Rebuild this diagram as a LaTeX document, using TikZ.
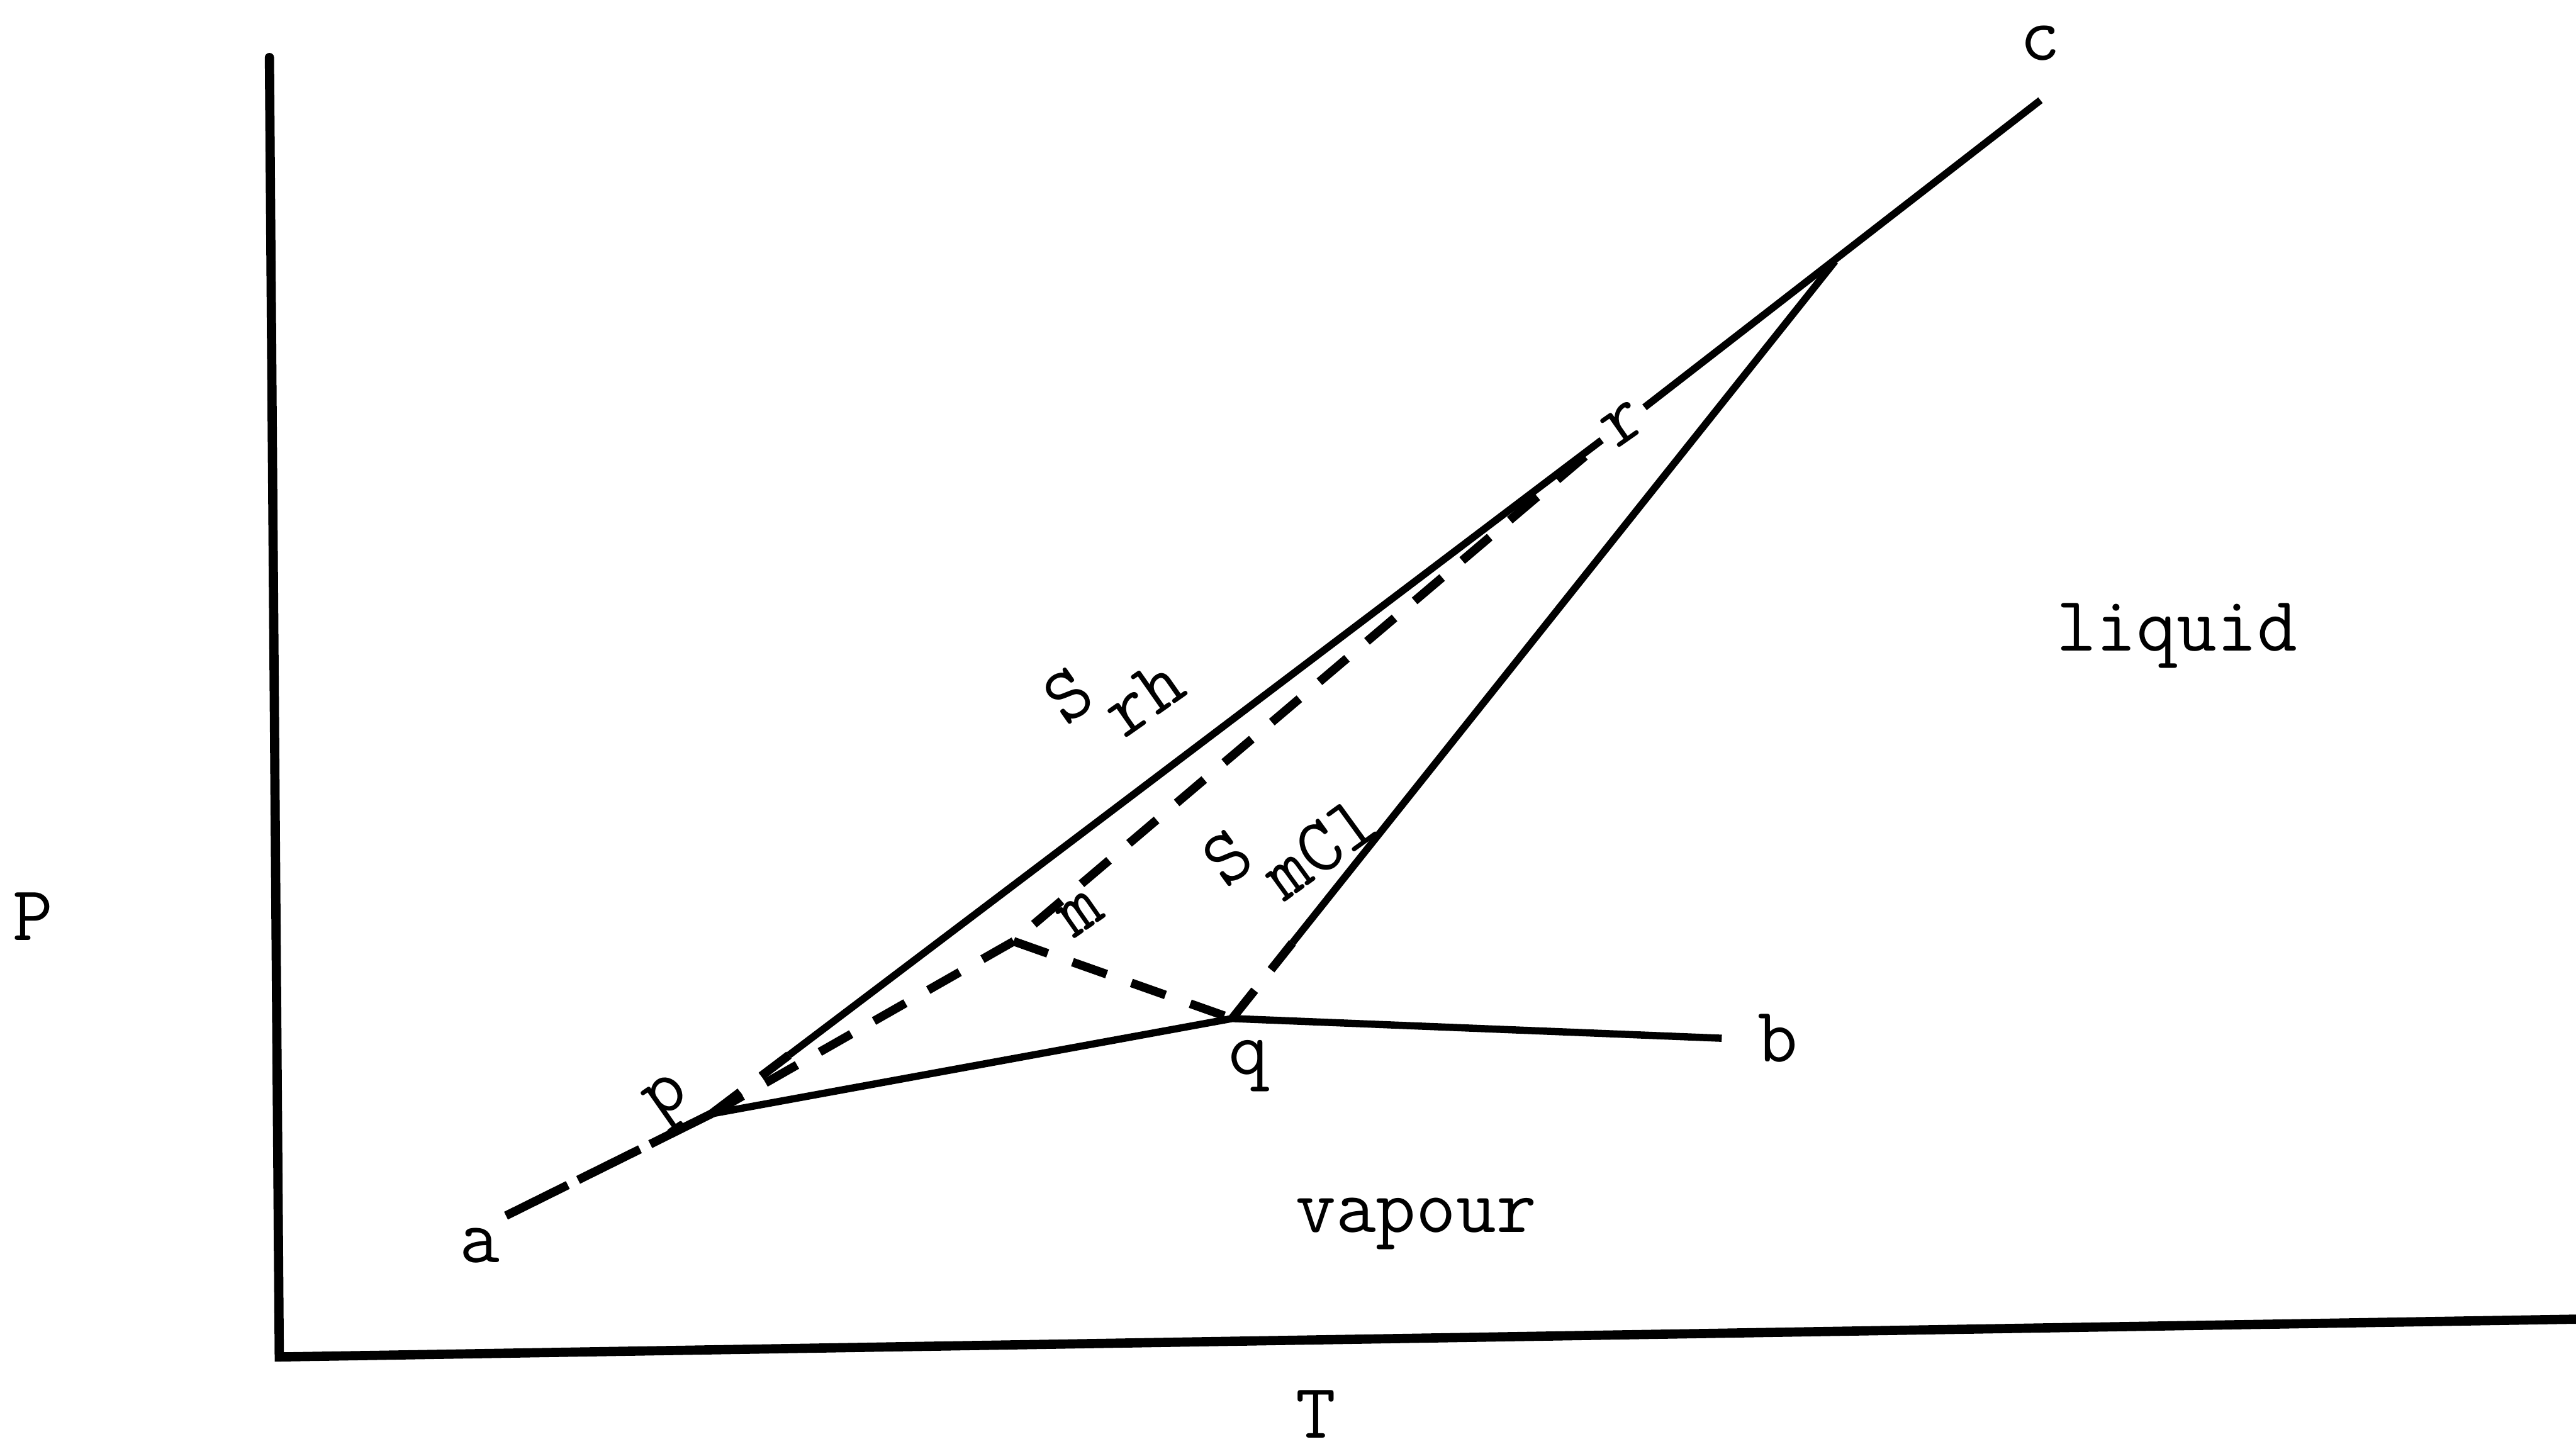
\documentclass[tikz,border=0pt]{standalone}
\usepackage{fontspec}
\usetikzlibrary{calc,positioning}
\tikzset{
  axisline/.style={line width=1.6pt,line cap=round},
  solidline/.style={line width=1.25pt},
  dashline/.style={line width=1.5pt,dash pattern=on 2.2mm off 1.6mm},
  longdash/.style={line width=1.5pt,dash pattern=on 4.2mm off 0.7mm},
  lbl/.style={font=\ttfamily\fontsize{13.5}{16}\selectfont\addfontfeatures{FakeBold=1.6},
              inner sep=1pt}
}

\begin{document}
\begin{tikzpicture}[x=1cm,y=1cm]
    \path[use as bounding box] (0,0) rectangle (15.68,8.82);

    % axes
    \coordinate (ytop) at (1.64,8.47);
    \coordinate (orig) at (1.70,0.56);
    \coordinate (xend) at (15.68,0.79);
    \draw[axisline] (ytop) -- (orig) -- (xend);
    \node[lbl] (ylab) at (0.20,3.24) {P};
    \node[lbl] (xlab) at (8.01,0.21) {T};

    % points of the diagram
    \coordinate (a) at (3.08,1.42);
    \coordinate (p) at (4.33,2.04);
    \coordinate (m) at (6.17,3.09);
    \coordinate (q) at (7.50,2.62);
    \coordinate (b) at (10.48,2.50);
    \coordinate (jn) at (11.17,7.23);
    \coordinate (cend) at (12.42,8.21);
    \node[lbl,rotate=35] (r) at (9.88,6.24) {r};
    \coordinate (pr) at ($(p)!0.085!(r)$);
    \coordinate (qj) at ($(q)!0.10!(jn)$);

    % curves
    \draw[longdash] (a) -- (p);
    \draw[solidline] (p) -- (q) -- (b);
    \draw[dashline] (p) -- (pr);
    \draw[solidline] (pr) -- (r);
    \draw[dashline] (p) -- (m) -- (r);
    \draw[dashline] (m) -- (q);
    \draw[dashline] (q) -- (qj);
    \draw[solidline] (qj) -- (jn);
    \draw[solidline] (r) -- (cend);

    % labels
    \node[lbl] (alab) at (2.92,1.24) {a};
    \node[lbl,rotate=35] (plab) at (4.08,2.11) {p};
    \node[lbl,rotate=35] (mlab) at (6.58,3.26) {m};
    \node[lbl] (qlab) at (7.60,2.33) {q};
    \node[lbl] (blab) at (10.82,2.50) {b};
    \node[lbl,above=2mm of cend] (clab) {c};
    \node[lbl,rotate=35] (srh) at (6.78,4.62) {S\raisebox{-2.7mm}{rh}};
    \node[lbl,rotate=36] (smcl) at (7.85,3.70) {S\raisebox{-2.8mm}{mCl}};
    \node[lbl] (liq) at (13.25,4.95) {liquid};
    \node[lbl] (vap) at (8.62,1.37) {vapour};
\end{tikzpicture}
\end{document}
